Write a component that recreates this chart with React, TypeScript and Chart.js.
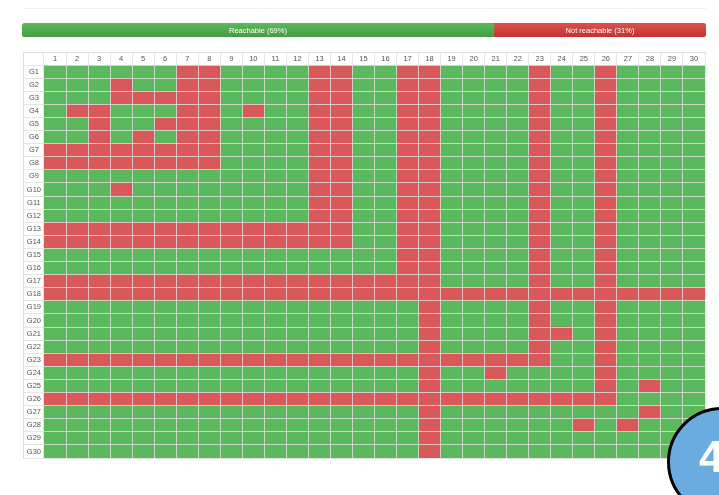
import React, { useEffect, useRef } from 'react';
import { Chart, registerables } from 'chart.js';

Chart.register(...registerables);

// ---------- data ----------
const rowLabels = [
  'G1', 'G2', 'G3', 'G4', 'G5', 'G6', 'G7', 'G8', 'G9', 'G10',
  'G11', 'G12', 'G13', 'G14', 'G15', 'G16', 'G17', 'G18', 'G19', 'G20',
  'G21', 'G22', 'G23', 'G24', 'G25', 'G26', 'G27', 'G28', 'G29', 'G30',
];
const colLabels = [
  '1', '2', '3', '4', '5', '6', '7', '8', '9', '10',
  '11', '12', '13', '14', '15', '16', '17', '18', '19', '20',
  '21', '22', '23', '24', '25', '26', '27', '28', '29', '30',
];
// '1' = not reachable, '0' = reachable (columns 1..30)
const reachMatrix = [
  '000000110000110011000010010000', // G1
  '000100110000110011000010010000', // G2
  '000111110000110011000010010000', // G3
  '011000110100110011000010010000', // G4
  '001001110000110011000010010000', // G5
  '001010110000110011000010010000', // G6
  '111111110000110011000010010000', // G7
  '111111110000110011000010010000', // G8
  '000000000000110011000010010000', // G9
  '000100000000110011000010010000', // G10
  '000000000000110011000010010000', // G11
  '000000000000110011000010010000', // G12
  '111111111111110011000010010000', // G13
  '111111111111110011000010010000', // G14
  '000000000000000011000010010000', // G15
  '000000000000000011000010010000', // G16
  '111111111111111111000010010000', // G17
  '111111111111111111111111111111', // G18
  '000000000000000001000010010000', // G19
  '000000000000000001000010010000', // G20
  '000000000000000001000011010000', // G21
  '000000000000000001000010010000', // G22
  '111111111111111111111110010000', // G23
  '000000000000000001001000010000', // G24
  '000000000000000001000000010100', // G25
  '111111111111111111111111110000', // G26
  '000000000000000001000000000100', // G27
  '000000000000000001000000101000', // G28
  '000000000000000001000000000000', // G29
  '000000000000000001000000000000', // G30
];
const progressLabels = ['Reachable', 'Not reachable'];
const progressValues = [69, 31];

// ---------- styles ----------
const FONT = '"Liberation Sans", Arial, sans-serif';
const GREEN = '#5cb85c';
const RED = '#d9595a';
const LINE = 'rgba(224,224,224,0.8)';
const TEXT = '#555';

const progressLabelPlugin = {
  id: 'progressLabels',
  afterDatasetsDraw(chart: any) {
    const { ctx } = chart;
    ctx.save();
    ctx.font = `7.5px ${FONT}`;
    ctx.fillStyle = '#ffffff';
    ctx.textAlign = 'center';
    ctx.textBaseline = 'middle';
    chart.data.datasets.forEach((ds: any, i: number) => {
      const el = chart.getDatasetMeta(i).data[0];
      if (!el) return;
      const p = el.getProps(['x', 'base', 'y'], true);
      ctx.fillText(`${ds.label} (${ds.data[0]}%)`, (p.x + p.base) / 2, p.y + 0.5);
    });
    ctx.restore();
  },
};

function gradient(top: string, bottom: string) {
  return (c: any) => {
    const { chart } = c;
    const area = chart.chartArea;
    if (!area) return top;
    const g = chart.ctx.createLinearGradient(0, area.top, 0, area.bottom);
    g.addColorStop(0, top);
    g.addColorStop(1, bottom);
    return g;
  };
}

function ProgressBar() {
  const ref = useRef<HTMLCanvasElement | null>(null);
  useEffect(() => {
    if (!ref.current) return;
    const chart = new Chart(ref.current, {
      type: 'bar',
      data: {
        labels: ['reach'],
        datasets: [
          {
            label: progressLabels[0],
            data: [progressValues[0]],
            backgroundColor: gradient('#5cb85c', '#449d44'),
            borderRadius: { topLeft: 4, bottomLeft: 4, topRight: 0, bottomRight: 0 },
            borderSkipped: false,
            barPercentage: 1,
            categoryPercentage: 1,
          },
          {
            label: progressLabels[1],
            data: [progressValues[1]],
            backgroundColor: gradient('#d9534f', '#c9302c'),
            borderRadius: { topLeft: 0, bottomLeft: 0, topRight: 4, bottomRight: 4 },
            borderSkipped: false,
            barPercentage: 1,
            categoryPercentage: 1,
          },
        ],
      },
      options: {
        indexAxis: 'y',
        animation: false,
        responsive: false,
        devicePixelRatio: 1,
        layout: { padding: 0 },
        plugins: { legend: { display: false }, tooltip: { enabled: false } },
        events: [],
        scales: {
          x: { type: 'linear', stacked: true, min: 0, max: 100, display: false },
          y: { type: 'category', stacked: true, display: false },
        },
      },
      plugins: [progressLabelPlugin],
    } as any);
    return () => chart.destroy();
  }, []);
  return (
    <canvas
      ref={ref}
      width={684}
      height={14}
      style={{ position: 'absolute', left: 22, top: 23, width: 684, height: 14 }}
    />
  );
}

function ReachGrid() {
  const ref = useRef<HTMLCanvasElement | null>(null);
  useEffect(() => {
    if (!ref.current) return;
    const datasets = colLabels.map((col, j) => ({
      label: col,
      data: rowLabels.map(() => 1),
      backgroundColor: reachMatrix.map((row) => (row[j] === '1' ? RED : GREEN)),
      borderWidth: 0,
      barPercentage: 1,
      categoryPercentage: 1,
    }));
    const chart = new Chart(ref.current, {
      type: 'bar',
      data: { labels: rowLabels, datasets },
      options: {
        indexAxis: 'y',
        animation: false,
        responsive: false,
        devicePixelRatio: 1,
        events: [],
        layout: { padding: { left: 0, top: 0, right: 1, bottom: 1 } },
        plugins: { legend: { display: false }, tooltip: { enabled: false } },
        scales: {
          x: { type: 'linear', stacked: true, min: 0, max: 30, display: false },
          x2: {
            type: 'category',
            axis: 'x',
            position: 'top',
            labels: colLabels,
            offset: true,
            grid: { offset: true, color: LINE, tickLength: 12, lineWidth: 1, z: 1 },
            border: { display: false },
            ticks: {
              color: TEXT,
              font: { family: FONT, size: 7.5 },
              padding: -10,
              autoSkip: false,
              maxRotation: 0,
              minRotation: 0,
            },
            afterFit: (s: any) => {
              s.height = 12;
            },
          },
          y: {
            type: 'category',
            stacked: true,
            offset: true,
            grid: { offset: true, color: LINE, tickLength: 20, lineWidth: 1, z: 1 },
            border: { display: false },
            ticks: {
              color: TEXT,
              font: { family: FONT, size: 7.5 },
              crossAlign: 'center',
              padding: -17,
              autoSkip: false,
            },
            afterFit: (s: any) => {
              s.width = 20;
            },
          },
        },
      },
    } as any);
    return () => chart.destroy();
  }, []);
  return (
    <div
      style={{
        position: 'absolute',
        left: 23,
        top: 52,
        borderTop: '1px solid #dedede',
        borderLeft: '1px solid #dedede',
        width: 682,
        height: 406,
      }}
    >
      <canvas ref={ref} width={682} height={406} style={{ display: 'block', width: 682, height: 406 }} />
    </div>
  );
}

export default function App() {
  return (
    <div
      style={{
        position: 'absolute',
        left: 0,
        top: 0,
        width: 719,
        height: 495,
        overflow: 'hidden',
        background: '#ffffff',
        fontFamily: FONT,
      }}
    >
      <div style={{ position: 'absolute', left: 23, top: 8, width: 683, height: 1, background: '#f0f0f0' }} />
      <ProgressBar />
      <ReachGrid />
      <div
        style={{
          position: 'absolute',
          left: 667,
          top: 407,
          width: 110,
          height: 110,
          borderRadius: '50%',
          background: '#6aacdf',
          border: '3px solid #000',
          boxSizing: 'border-box',
        }}
      />
      <span
        style={{
          position: 'absolute',
          left: 699,
          top: 435,
          fontSize: 44,
          lineHeight: 1,
          fontWeight: 700,
          color: '#ffffff',
          fontFamily: FONT,
        }}
      >
        4
      </span>
    </div>
  );
}
